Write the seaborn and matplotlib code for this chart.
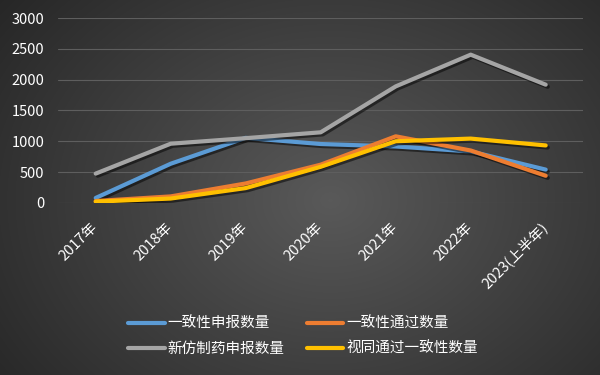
import numpy as np
import pandas as pd
import matplotlib
matplotlib.use('Agg')
import matplotlib.pyplot as plt
import matplotlib.patheffects as pe
from matplotlib.lines import Line2D
import seaborn as sns

# ── Datos ────────────────────────────────────────────────
anios = ['2017年', '2018年', '2019年', '2020年', '2021年', '2022年', '2023(上半年)']
series = ['一致性申报数量', '一致性通过数量', '新仿制药申报数量', '视同通过一致性数量']
sb_shenbao = [80, 635, 1055, 955, 915, 835, 540]
tg_tongguo = [30, 105, 315, 620, 1080, 850, 440]
xfz_shenbao = [475, 960, 1050, 1145, 1890, 2405, 1918]
st_tongguo = [20, 70, 240, 585, 1000, 1043, 932]
colores = ['#5B9BD5', '#ED7D31', '#A5A5A5', '#FFC000']
yticks = [0, 500, 1000, 1500, 2000, 2500, 3000]

df = pd.DataFrame({
    'anio': anios * 4,
    'serie': sum([[s] * len(anios) for s in series], []),
    'valor': sb_shenbao + tg_tongguo + xfz_shenbao + st_tongguo,
})

sns.set_theme(style='white')
plt.rcParams['font.family'] = ['Noto Sans CJK SC', 'DejaVu Sans']

fig = plt.figure(figsize=(6, 3.75), dpi=100)

# fondo con degradado radial
bg = fig.add_axes([0, 0, 1, 1], zorder=-10)
yy, xx = np.mgrid[0:375, 0:600]
r = np.sqrt(((xx - 330) / 420) ** 2 + ((yy - 200) / 330) ** 2)
r = np.clip(r, 0, 1)
gris = 0.35 - 0.20 * r
bg.imshow(np.dstack([gris, gris, gris]), aspect='auto', extent=[0, 1, 0, 1])
bg.axis('off')

ax = fig.add_axes([0.097, 0.459, 0.875, 0.493])
ax.set_facecolor('none')

sns.lineplot(data=df, x='anio', y='valor', hue='serie', hue_order=series,
             palette=colores, linewidth=3, sort=False, legend=False, ax=ax,
             solid_capstyle='round', solid_joinstyle='round')
for ln in ax.lines:
    ln.set_path_effects([pe.SimpleLineShadow(offset=(1.5, -1.5), alpha=0.5, shadow_color='black'),
                         pe.Normal()])

ax.set_xlim(-0.5, len(anios) - 0.5)
ax.set_ylim(0, 3000)
ax.set_yticks(yticks)
ax.yaxis.grid(True, color='#5e5e5e', linewidth=0.8)
ax.set_axisbelow(True)
for s in ax.spines.values():
    s.set_visible(False)
ax.set_xlabel('')
ax.set_ylabel('')
ax.tick_params(axis='y', length=0, pad=10, labelsize=10.5, labelcolor='white')
ax.tick_params(axis='x', length=0, pad=16, labelsize=10.5, labelcolor='white')
ax.set_xticks(range(len(anios)))
ax.set_xticklabels(anios, rotation=45, ha='right', va='center', rotation_mode='anchor')

# orden por columnas: fila 1 azul/naranja, fila 2 gris/amarillo
orden = [0, 2, 1, 3]
handles = [Line2D([0], [0], color=colores[i], linewidth=3, solid_capstyle='round') for i in orden]
etiquetas = [series[i] for i in orden]
leg = fig.legend(handles, etiquetas, loc='center', bbox_to_anchor=(0.505, 0.103), ncol=2,
                 frameon=False, fontsize=10.5, handlelength=2.5, handletextpad=0.2,
                 columnspacing=1.5, labelspacing=0.75)
for t in leg.get_texts():
    t.set_color('white')

fig.savefig('out.png', dpi=100)
